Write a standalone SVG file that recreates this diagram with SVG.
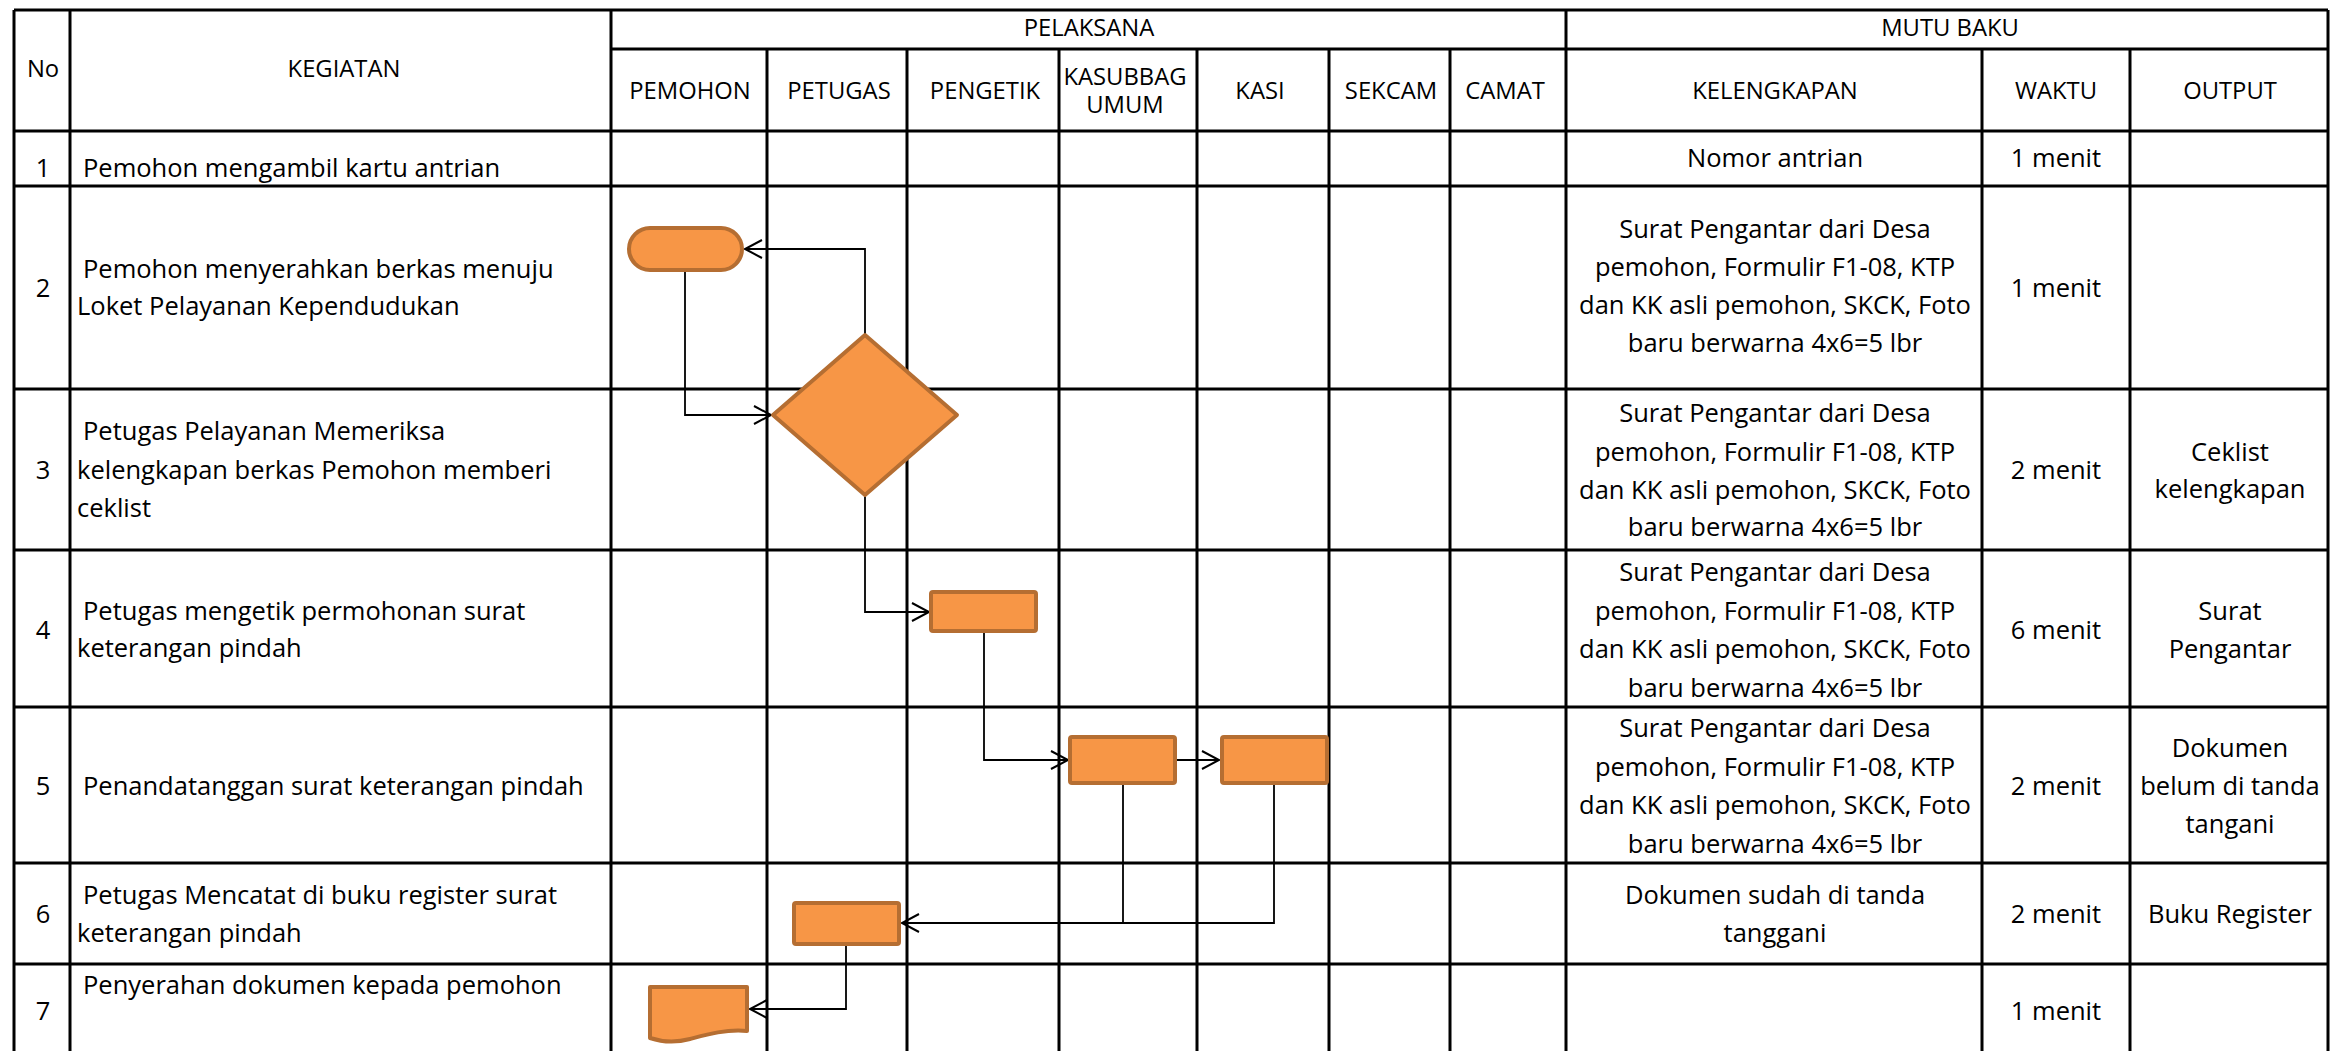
<svg xmlns="http://www.w3.org/2000/svg" width="2339" height="1051" viewBox="0 0 2339 1051">
<style>
.g{stroke:#000;stroke-width:3;fill:none}
.h{font-family:"Open Sans","Noto Sans",sans-serif;font-size:23.8px;fill:#000;text-anchor:middle}
.t{font-family:"Open Sans","Noto Sans",sans-serif;font-size:25.5px;fill:#000}
.c{text-anchor:middle}
.s{fill:#F79646;stroke:#B56E32;stroke-width:4;stroke-linejoin:round}
.k{fill:none;stroke:#000;stroke-width:1.8}
</style>
<defs>
<marker id="arr" markerUnits="userSpaceOnUse" markerWidth="24" markerHeight="24" viewBox="-20 -12 24 24" refX="0" refY="0" orient="auto">
<path d="M-17,-9 L0,0 L-17,9" fill="none" stroke="#000" stroke-width="2"/>
</marker>
</defs>
<rect width="2339" height="1051" fill="#fff"/>
<g id="grid" class="g">
<path d="M14,10 H2328 M611,49 H2328 M14,131 H2328 M14,186 H2328 M14,389 H2328 M14,550 H2328 M14,707 H2328 M14,863 H2328 M14,964 H2328"/>
<path d="M14,10 V1051 M70,10 V1051 M611,10 V1051 M1566,10 V1051 M2328,10 V1051"/>
<path d="M767,49 V1051 M907,49 V1051 M1059,49 V1051 M1197,49 V1051 M1329,49 V1051 M1450,49 V1051 M1982,49 V1051 M2130,49 V1051"/>
</g>
<g id="header">
<text class="h" x="43" y="77">No</text>
<text class="h" x="344" y="77">KEGIATAN</text>
<text class="h" x="1089" y="36">PELAKSANA</text>
<text class="h" x="1950" y="36">MUTU BAKU</text>
<text class="h" x="690" y="99">PEMOHON</text>
<text class="h" x="839" y="99">PETUGAS</text>
<text class="h" x="985" y="99">PENGETIK</text>
<text class="h" x="1125" y="85">KASUBBAG</text>
<text class="h" x="1125" y="113">UMUM</text>
<text class="h" x="1260" y="99">KASI</text>
<text class="h" x="1391" y="99">SEKCAM</text>
<text class="h" x="1505" y="99">CAMAT</text>
<text class="h" x="1775" y="99">KELENGKAPAN</text>
<text class="h" x="2056" y="99">WAKTU</text>
<text class="h" x="2230" y="99">OUTPUT</text>
</g>
<g id="row1">
<text class="t c" x="43" y="177">1</text>
<text class="t" x="83" y="177">Pemohon mengambil kartu antrian</text>
<text class="t c" x="1775" y="167">Nomor antrian</text>
<text class="t c" x="2056" y="167">1 menit</text>
</g>
<g id="row2">
<text class="t c" x="43" y="297">2</text>
<text class="t" x="83" y="278">Pemohon menyerahkan berkas menuju</text>
<text class="t" x="77" y="315">Loket Pelayanan Kependudukan</text>
<text class="t c" x="1775" y="238">Surat Pengantar dari Desa</text>
<text class="t c" x="1775" y="276">pemohon, Formulir F1-08, KTP</text>
<text class="t c" x="1775" y="314">dan KK asli pemohon, SKCK, Foto</text>
<text class="t c" x="1775" y="352">baru berwarna 4x6=5 lbr</text>
<text class="t c" x="2056" y="297">1 menit</text>
</g>
<g id="row3">
<text class="t c" x="43" y="479">3</text>
<text class="t" x="83" y="440">Petugas Pelayanan Memeriksa</text>
<text class="t" x="77" y="479">kelengkapan berkas Pemohon memberi</text>
<text class="t" x="77" y="517">ceklist</text>
<text class="t c" x="1775" y="422">Surat Pengantar dari Desa</text>
<text class="t c" x="1775" y="461">pemohon, Formulir F1-08, KTP</text>
<text class="t c" x="1775" y="499">dan KK asli pemohon, SKCK, Foto</text>
<text class="t c" x="1775" y="536">baru berwarna 4x6=5 lbr</text>
<text class="t c" x="2056" y="479">2 menit</text>
<text class="t c" x="2230" y="461">Ceklist</text>
<text class="t c" x="2230" y="498">kelengkapan</text>
</g>
<g id="row4">
<text class="t c" x="43" y="639">4</text>
<text class="t" x="83" y="620">Petugas mengetik permohonan surat</text>
<text class="t" x="77" y="657">keterangan pindah</text>
<text class="t c" x="1775" y="581">Surat Pengantar dari Desa</text>
<text class="t c" x="1775" y="620">pemohon, Formulir F1-08, KTP</text>
<text class="t c" x="1775" y="658">dan KK asli pemohon, SKCK, Foto</text>
<text class="t c" x="1775" y="697">baru berwarna 4x6=5 lbr</text>
<text class="t c" x="2056" y="639">6 menit</text>
<text class="t c" x="2230" y="620">Surat</text>
<text class="t c" x="2230" y="658">Pengantar</text>
</g>
<g id="row5">
<text class="t c" x="43" y="795">5</text>
<text class="t" x="83" y="795">Penandatanggan surat keterangan pindah</text>
<text class="t c" x="1775" y="737">Surat Pengantar dari Desa</text>
<text class="t c" x="1775" y="776">pemohon, Formulir F1-08, KTP</text>
<text class="t c" x="1775" y="814">dan KK asli pemohon, SKCK, Foto</text>
<text class="t c" x="1775" y="853">baru berwarna 4x6=5 lbr</text>
<text class="t c" x="2056" y="795">2 menit</text>
<text class="t c" x="2230" y="757">Dokumen</text>
<text class="t c" x="2230" y="795">belum di tanda</text>
<text class="t c" x="2230" y="833">tangani</text>
</g>
<g id="row6">
<text class="t c" x="43" y="923">6</text>
<text class="t" x="83" y="904">Petugas Mencatat di buku register surat</text>
<text class="t" x="77" y="942">keterangan pindah</text>
<text class="t c" x="1775" y="904">Dokumen sudah di tanda</text>
<text class="t c" x="1775" y="942">tanggani</text>
<text class="t c" x="2056" y="923">2 menit</text>
<text class="t c" x="2230" y="923">Buku Register</text>
</g>
<g id="row7">
<text class="t c" x="43" y="1020">7</text>
<text class="t" x="83" y="994">Penyerahan dokumen kepada pemohon</text>
<text class="t c" x="2056" y="1020">1 menit</text>
</g>
<g id="connectors" class="k">
<path d="M865,335 V249 H745" marker-end="url(#arr)"/>
<path d="M685,272 V415 H771" marker-end="url(#arr)"/>
<path d="M865,495 V612 H929" marker-end="url(#arr)"/>
<path d="M984,633 V760 H1068" marker-end="url(#arr)"/>
<path d="M1177,760 H1219" marker-end="url(#arr)"/>
<path d="M1123,785 V923"/>
<path d="M1274,785 V923 H902" marker-end="url(#arr)"/>
<path d="M846,946 V1009 H750" marker-end="url(#arr)"/>
</g>
<g id="n-start"><rect class="s" x="629" y="228" width="113" height="42" rx="21"/></g>
<g id="n-check"><polygon class="s" points="865,335 957,415 865,495 773,415"/></g>
<g id="n-ketik"><rect class="s" x="931" y="592" width="105" height="39" rx="2"/></g>
<g id="n-kasubbag"><rect class="s" x="1070" y="737" width="105" height="46" rx="2"/></g>
<g id="n-kasi"><rect class="s" x="1222" y="737" width="105" height="46" rx="2"/></g>
<g id="n-register"><rect class="s" x="794" y="903" width="105" height="41" rx="2"/></g>
<g id="n-dokumen"><path class="s" d="M650,987 H747 V1031 C725,1029 705,1035 690,1039 C675,1043 662,1042 650,1038 Z"/></g>
</svg>
